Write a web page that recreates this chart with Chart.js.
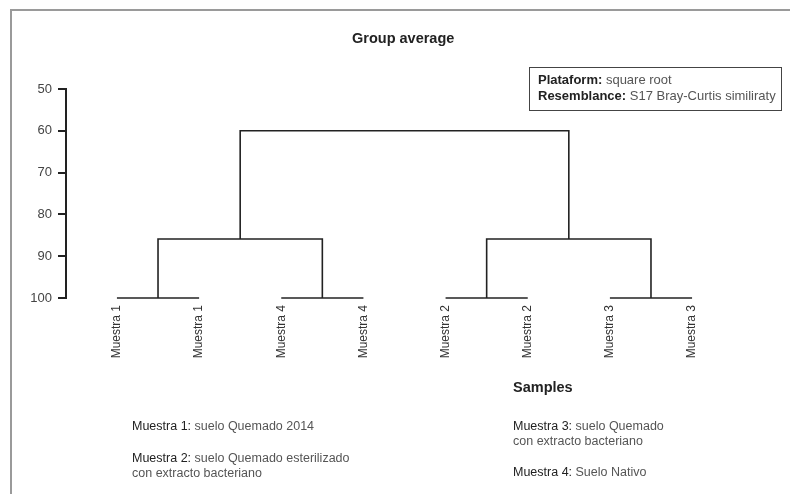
<!DOCTYPE html>
<html>
<head>
<meta charset="utf-8">
<script src="https://cdn.jsdelivr.net/npm/chart.js@4"></script>
<style>
  body { margin: 0; background: #fff; font-family: "Liberation Sans", Arial, Helvetica, sans-serif; }
  #wrap { position: relative; width: 790px; height: 494px; overflow: hidden; }
  #frame { position: absolute; left: 10px; top: 9px; width: 800px; height: 500px; border: 2px solid #9a9a9a; }
  #chart { position: absolute; left: 0; top: 0; }
  .txt { position: absolute; white-space: nowrap; color: #555; }
  .txt b { color: #222; }
  .txt .k { color: #222; }
  #info { position: absolute; left: 529px; top: 67px; width: 253px; height: 44px; box-sizing: border-box;
          border: 1px solid #444; padding: 3.5px 0 0 8px; font-size: 13px; line-height: 16px; color: #555; }
  #info b { color: #222; }
</style>
</head>
<body>
<div id="wrap">
  <div id="frame"></div>
  <canvas id="chart" width="790" height="494"></canvas>
  <div id="info">
    <div><b>Plataform:</b> square root</div>
    <div><b>Resemblance:</b> S17 Bray-Curtis similiraty</div>
  </div>
</div>

<script>
// ===== datos del dendrograma =====
const leafLabels = ["Muestra 1", "Muestra 1", "Muestra 4", "Muestra 4",
                    "Muestra 2", "Muestra 2", "Muestra 3", "Muestra 3"];
// [nodo a, nodo b, similitud] ; nodos 0-7 = hojas, 8+ = uniones
const merges = [
  [0, 1, 100],
  [2, 3, 100],
  [4, 5, 100],
  [6, 7, 100],
  [8, 9, 85.9],
  [10, 11, 85.9],
  [12, 13, 60]
];
const yTicks = [50, 60, 70, 80, 90, 100];

// ===== textos fuera del gráfico =====
function addText(html, x, baseline, size, bold) {
  const d = document.createElement("div");
  d.className = "txt";
  d.innerHTML = html;
  d.style.left = x + "px";
  d.style.top = (baseline - 0.8465 * size) + "px";
  d.style.fontSize = size + "px";
  d.style.lineHeight = size + "px";
  if (bold) { d.style.fontWeight = "bold"; d.style.color = "#222"; }
  document.getElementById("wrap").appendChild(d);
}

addText("Group average", 352, 43.5, 14.5, true);
addText("Samples", 513, 392, 14.5, true);
addText('<span class="k">Muestra 1:</span> suelo Quemado 2014', 132, 431, 12.5);
addText('<span class="k">Muestra 2:</span> suelo Quemado esterilizado', 132, 463, 12.5);
addText("con extracto bacteriano", 132, 477.5, 12.5);
addText('<span class="k">Muestra 3:</span> suelo Quemado', 513, 431, 12.5);
addText("con extracto bacteriano", 513, 445.5, 12.5);
addText('<span class="k">Muestra 4:</span> Suelo Nativo', 513, 477, 12.5);

// ===== construir segmentos =====
const nodes = leafLabels.map((_, i) => ({ x: i, h: 100 }));
const datasets = merges.map(([a, b, h]) => {
  const na = nodes[a], nb = nodes[b];
  nodes.push({ x: (na.x + nb.x) / 2, h: h });
  return {
    data: [
      { x: na.x, y: na.h },
      { x: na.x, y: h },
      { x: nb.x, y: h },
      { x: nb.x, y: nb.h }
    ],
    showLine: true,
    borderColor: "#222",
    borderWidth: 1.6,
    borderJoinStyle: "miter",
    borderCapStyle: "butt",
    pointRadius: 0,
    tension: 0,
    clip: false
  };
});

const ctx = document.getElementById("chart").getContext("2d");
new Chart(ctx, {
  type: "scatter",
  data: { datasets: datasets },
  options: {
    responsive: false,
    animation: false,
    layout: { padding: { left: 0, top: 89, right: 47, bottom: 126 } },
    plugins: {
      legend: { display: false },
      tooltip: { enabled: false }
    },
    scales: {
      x: {
        type: "linear",
        min: -0.62,
        max: leafLabels.length - 1 + 0.62,
        grid: { display: false, drawTicks: false },
        border: { display: false },
        afterBuildTicks: axis => { axis.ticks = leafLabels.map((_, i) => ({ value: i })); },
        afterFit: axis => { axis.height = 70; },
        ticks: {
          autoSkip: false,
          minRotation: 90,
          maxRotation: 90,
          padding: 7,
          color: "#333",
          font: { family: "Liberation Sans", size: 12 },
          callback: v => leafLabels[v] ?? ""
        }
      },
      y: {
        reverse: true,
        min: 50,
        max: 100,
        afterBuildTicks: axis => { axis.ticks = yTicks.map(v => ({ value: v })); },
        afterFit: axis => { axis.width = 66; },
        grid: { drawOnChartArea: false, drawTicks: true, tickLength: 8, color: "#222", lineWidth: 2 },
        border: { display: true, color: "#222", width: 2 },
        ticks: {
          padding: 6,
          color: "#444",
          font: { family: "Liberation Sans", size: 13 }
        }
      }
    }
  }
});
</script>
</body>
</html>
